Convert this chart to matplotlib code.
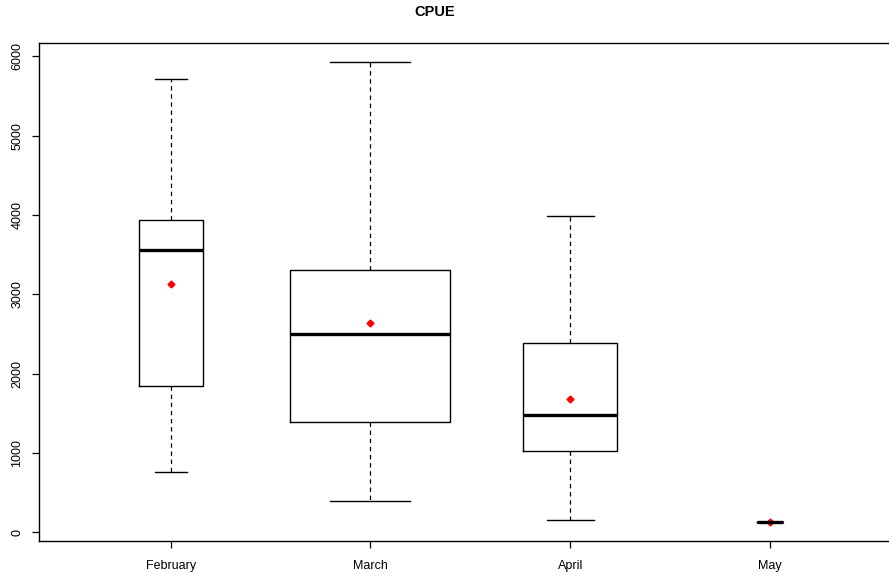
import matplotlib
matplotlib.use("Agg")
import matplotlib.pyplot as plt

plt.rcParams["font.family"] = ["Liberation Sans", "DejaVu Sans"]

# ---- data ----
months = ["February", "March", "April", "May"]
whis_lo = [756, 394, 155, 130]
q1 = [1843, 1393, 1024, 130]
median = [3556, 2498, 1478, 130]
q3 = [3934, 3313, 2381, 130]
whis_hi = [5719, 5928, 3985, 130]
means = [3124, 2640, 1683, 130]
box_widths = [0.32, 0.80, 0.472, 0.13]   # varwidth style boxes

stats = []
for i, m in enumerate(months):
    stats.append({"label": m, "whislo": whis_lo[i], "q1": q1[i], "med": median[i],
                  "q3": q3[i], "whishi": whis_hi[i], "fliers": []})

fig = plt.figure(figsize=(8.89, 5.76), dpi=100)
ax = fig.add_axes([38.7 / 889, 35 / 576, (902 - 38.7) / 889, (541 - 43.3) / 576])

pos = list(range(1, len(months) + 1))
ax.bxp(stats, positions=pos, widths=box_widths, showfliers=False,
       boxprops=dict(color="black", lw=1),
       medianprops=dict(color="black", lw=2.4, solid_capstyle="butt"),
       whiskerprops=dict(color="black", lw=0.9, linestyle=(0, (3.5, 3))),
       capprops=dict(color="black", lw=1), capwidths=[w / 2 for w in box_widths])

ax.plot(pos, means, linestyle="none", marker="D", color="red", markersize=3.5)

ax.set_xlim(0.34, 4.66)
ax.set_ylim(-110, 6165)
ax.set_yticks([0, 1000, 2000, 3000, 4000, 5000, 6000])
ax.set_xticks(pos)
ax.set_xticklabels(months)
for lab in ax.get_yticklabels():
    lab.set_rotation(90)
    lab.set_va("center")
ax.tick_params(axis="both", labelsize=9, length=5, width=0.9, colors="black")
ax.tick_params(axis="x", pad=9)
ax.tick_params(axis="y", pad=6)
for s in ax.spines.values():
    s.set_linewidth(1)

fig.text(435 / 889, 1 - 12 / 576, "CPUE", fontweight="bold", fontsize=10.5,
         ha="center", va="center")

fig.savefig("out.png", dpi=100)
